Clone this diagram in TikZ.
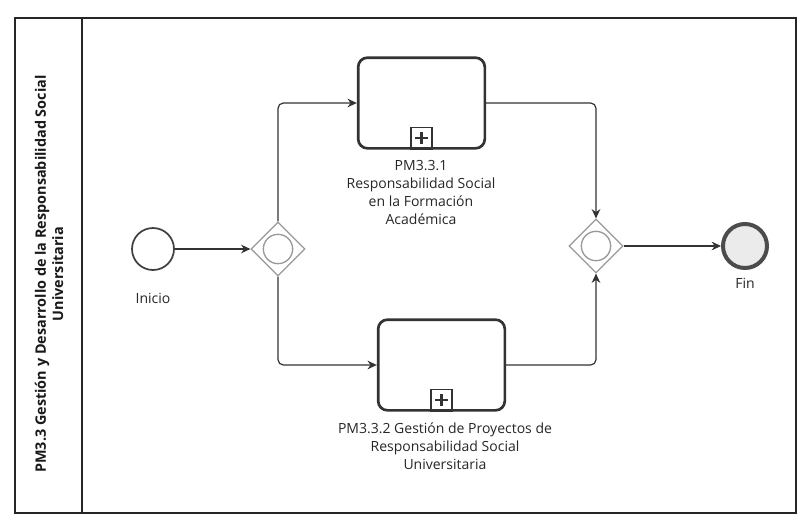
\documentclass[tikz,border=0pt]{standalone}
\usepackage{fontspec}
\setmainfont{Open Sans}
\usetikzlibrary{arrows.meta,shapes.geometric}
\tikzset{
  pool/.style={draw=black!85,line width=1.3pt},
  task/.style={draw=black!80,line width=2pt,rounded corners=7pt,minimum width=95pt,minimum height=68pt,inner sep=0pt},
  marker/.style={draw=black!80,line width=1.2pt,minimum size=16pt,inner sep=0pt,anchor=south},
  startev/.style={circle,draw=black!75,line width=1.3pt,minimum size=31.5pt,inner sep=0pt},
  endev/.style={circle,draw=black!70,fill=black!8,line width=3pt,minimum size=33pt,inner sep=0pt},
  gate/.style={diamond,draw=black!40,line width=0.9pt,minimum width=40.5pt,minimum height=40.5pt,inner sep=0pt,aspect=1},
  flow/.style={draw=black!80,line width=0.9pt,rounded corners=4pt,-{Stealth[length=7pt,width=6.5pt]}},
  lbl/.style={font=\fontsize{10.5}{13.5}\selectfont,text=black!85,align=center},
}
\begin{document}
\begin{tikzpicture}[x=0.75pt,y=-0.75pt]
\useasboundingbox (0,0) rectangle (801,526);
% pool
\draw[pool] (15,18) rectangle (796,513);
\draw[pool] (82,18) -- (82,513);
\node[rotate=90,align=center,font=\fontsize{10.8}{13}\selectfont\bfseries,text=black!90] (title) at (49,274)
  {PM3.3 Gestión y Desarrollo de la Responsabilidad Social\\Universitaria};
% events
\node[startev] (start) at (153,249) {};
\node[lbl,anchor=north] (inicio) at (153,289) {Inicio};
\node[endev] (fin) at (745,246) {};
\node[lbl,anchor=north] (finlbl) at (745,274) {Fin};
% gateways
\node[gate] (g1) at (278,249) {};
\draw[black!40,line width=1pt] (g1.center) circle (11pt);
\node[gate] (g2) at (596,246) {};
\draw[black!40,line width=1pt] (g2.center) circle (11pt);
% tasks
\node[task] (t1) at (421.5,103) {};
\node[marker] (m1) at (t1.south) {};
\draw[black!80,line width=1.6pt] ([yshift=-4pt]m1.north) -- ([yshift=4pt]m1.south) ([xshift=4pt]m1.west) -- ([xshift=-4pt]m1.east);
\node[lbl,anchor=north] (l1) at (421,156) {PM3.3.1\\Responsabilidad Social\\en la Formación\\Académica};
\node[task] (t2) at (441.5,365) {};
\node[marker] (m2) at (t2.south) {};
\draw[black!80,line width=1.6pt] ([yshift=-4pt]m2.north) -- ([yshift=4pt]m2.south) ([xshift=4pt]m2.west) -- ([xshift=-4pt]m2.east);
\node[lbl,anchor=north] (l2) at (445,418) {PM3.3.2 Gestión de Proyectos de\\Responsabilidad Social\\Universitaria};
% flows
\draw[flow] (start.east) -- (g1.west);
\draw[flow] (g1.north) |- (t1.west);
\draw[flow] (g1.south) |- (t2.west);
\draw[flow] (t1.east) -| (g2.north);
\draw[flow] (t2.east) -| (g2.south);
\draw[flow] (g2.east) -- (fin.west);
\end{tikzpicture}
\end{document}
